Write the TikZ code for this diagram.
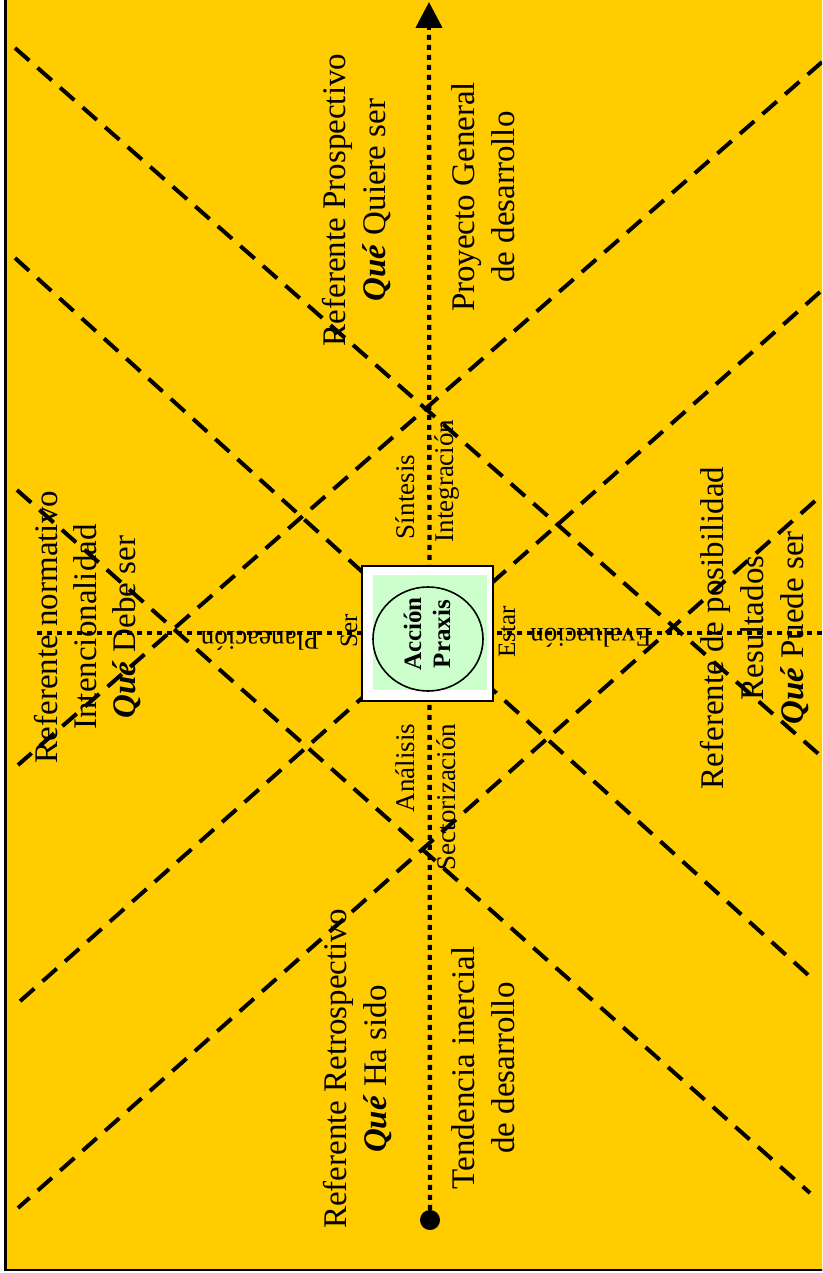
\documentclass[tikz,border=0pt]{standalone}
\usepackage{fontspec}
\setmainfont{Liberation Serif}
\usetikzlibrary{arrows.meta,shapes.geometric}
\definecolor{bgyellow}{HTML}{FFCC00}
\definecolor{praxisgreen}{HTML}{CCFFCC}
\begin{document}
\begin{tikzpicture}[x=1pt,y=-1pt,
  dashline/.style={line width=4pt, dash pattern=on 19pt off 11pt},
  axisline/.style={line width=4.3pt, dash pattern=on 5pt off 5pt},
  bigtext/.style={rotate=90, align=center, font=\fontsize{33}{40}\selectfont, inner sep=0pt},
  smalltext/.style={font=\fontsize{27}{32}\selectfont, inner sep=0pt},
  tinytext/.style={font=\fontsize{25}{30}\selectfont, inner sep=0pt}
]
\useasboundingbox (0,0) rectangle (822,1273);
\clip (0,0) rectangle (822,1273);
\fill[white] (0,0) rectangle (822,1273);
\draw[line width=2.5pt, fill=bgyellow] (5.5,-2) rectangle (830,1270);

% dashed line end points
\coordinate (a1) at (15,48);   \coordinate (b1) at (822,757);
\coordinate (a3) at (15,258);  \coordinate (b3) at (816,982);
\coordinate (a6) at (17,490);  \coordinate (b6) at (810,1193);
\coordinate (a2) at (822,62);  \coordinate (b2) at (18,765);
\coordinate (a4) at (820,292); \coordinate (b4) at (18,1003);
\coordinate (a5) at (815,501); \coordinate (b5) at (18,1208);
\foreach \p in {1,2,3,4,5,6} {\draw[dashline] (a\p) -- (b\p);}

% axes
\node[circle, fill=black, minimum size=20pt, inner sep=0pt] (start) at (430,1220) {};
\coordinate (top) at (429,2);
\coordinate (arrbase) at (429,30);
\draw[axisline] (start) -- (arrbase);
\draw[line width=4.3pt, -{Triangle[width=26pt,length=26pt]}] (arrbase) -- (top);
\coordinate (hl) at (37,633);
\coordinate (hr) at (822,633);
\draw[axisline] (hl) -- (hr);

% central box
\node[draw, line width=2pt, fill=white, minimum width=131pt, minimum height=135pt, inner sep=0pt] (box) at (427.5,633) {};
\fill[praxisgreen] (373,575) rectangle (487,690);
\node[draw, ellipse, line width=1.6pt, minimum width=110pt, minimum height=104pt, inner sep=0pt] (circ) at (428,639) {};
\node[rotate=90, align=center, font=\bfseries\fontsize{25}{29}\selectfont, inner sep=0pt] (praxis) at (427,634) {Acción\\Praxis};

% big labels
\node[bigtext] (pro) at (357,200) {Referente Prospectivo\\\textbf{\textit{Qué}} Quiere ser};
\node[bigtext] (proy) at (483,197) {Proyecto General\\de desarrollo};
\node[bigtext] (ret) at (358,1069) {Referente Retrospectivo\\\textbf{\textit{Qué}} Ha sido};
\node[bigtext] (tend) at (483,1068) {Tendencia inercial\\de desarrollo};
\node[bigtext, font=\fontsize{33}{39}\selectfont] (norm) at (88,627) {Referente normativo\\Intencionalidad\\\textbf{\textit{Qué}} Debe ser};
\node[bigtext] (pos) at (755,628) {Referente de posibilidad\\Resultados\\\textbf{\textit{Qué}} Puede ser};

% small labels
\node[smalltext, rotate=90] (sint) at (405,497) {Síntesis};
\node[smalltext, rotate=90] (integ) at (447,481) {Integración};
\node[smalltext, rotate=90] (anal) at (405,768) {Análisis};
\node[smalltext, rotate=90] (sect) at (446,797) {Sectorización};
\node[tinytext, rotate=90] (ser) at (349,631) {Ser};
\node[tinytext, rotate=90] (estar) at (507,632) {Estar};
\node[smalltext, rotate=180] (plan) at (260,641) {Planeación};
\node[smalltext, rotate=180] (eval) at (591,638) {Evaluación};
\end{tikzpicture}
\end{document}
